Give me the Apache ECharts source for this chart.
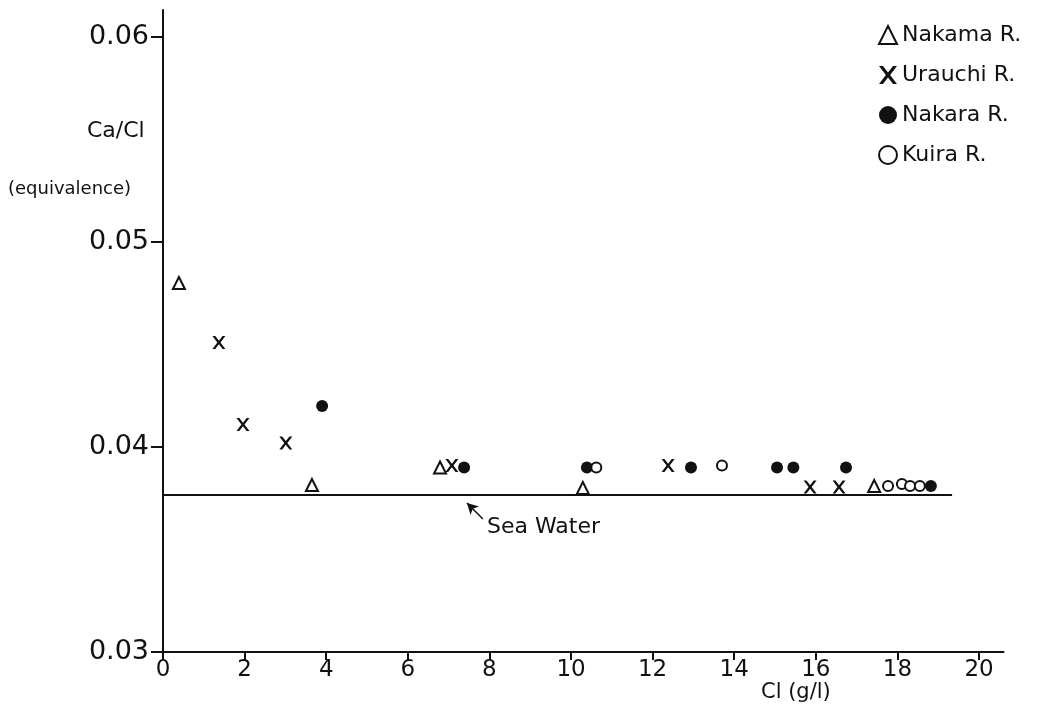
<!DOCTYPE html>
<html>
<head>
<meta charset="utf-8">
<script src="https://cdn.jsdelivr.net/npm/echarts@6/dist/echarts.min.js"></script>
<style>
html,body{margin:0;padding:0;background:#fff;}
#chart{width:1040px;height:704px;}
</style>
</head>
<body>
<div id="chart"></div>
<script>
// ---- data ----
var xTicks = [0, 2, 4, 6, 8, 10, 12, 14, 16, 18, 20];
var yTicks = [0.03, 0.04, 0.05, 0.06];
var nakama = [[0.39, 0.0480], [3.65, 0.03815], [6.79, 0.0390], [10.29, 0.0380], [17.43, 0.0381]];
var urauchi = [[1.37, 0.0451], [1.96, 0.0411], [3.01, 0.0402], [7.08, 0.0391], [12.38, 0.0391], [15.86, 0.03805], [16.57, 0.03805]];
var nakara = [[3.90, 0.0420], [7.38, 0.0390], [10.39, 0.0390], [12.94, 0.0390], [15.05, 0.0390], [15.45, 0.0390], [16.74, 0.0390], [18.82, 0.0381]];
var kuira = [[10.62, 0.0390], [13.70, 0.0391], [17.77, 0.0381], [18.11, 0.0382], [18.31, 0.0381], [18.55, 0.0381]];
var seaWater = [[0, 0.03766], [19.34, 0.03766]];
var seaLabel = [[7.94, 0.0361]];
var seaArrow = [[7.84, 0.03649], [7.45, 0.03727]];

var ink = '#111111';
var font = 'DejaVu Sans';
var crossPath = 'path://M0,0 L2.2,0 L5,3.6 L7.8,0 L10,0 L6.2,5 L10,10 L7.8,10 L5,6.4 L2.2,10 L0,10 L3.8,5 Z';

var chart = echarts.init(document.getElementById('chart'));
chart.setOption({
  backgroundColor: '#fff',
  animation: false,
  title: [
    {text: 'Ca/Cl', left: 82, top: 115, textStyle: {fontFamily: font, fontWeight: 'normal', fontSize: 22, color: ink}},
    {text: '(equivalence)', left: 3, top: 175, textStyle: {fontFamily: font, fontWeight: 'normal', fontSize: 18, color: ink}},
    {text: 'Cl (g/l)', left: 756, top: 677, textStyle: {fontFamily: font, fontWeight: 'normal', fontSize: 21, color: ink}}
  ],
  legend: {
    orient: 'vertical',
    left: 873,
    top: 19,
    itemGap: 18,
    itemWidth: 18,
    itemHeight: 18,
    textStyle: {fontFamily: font, fontSize: 22, color: ink},
    data: ['Nakama R.', 'Urauchi R.', 'Nakara R.', 'Kuira R.']
  },
  grid: {left: 163, top: 10, width: 840.5, height: 642},
  xAxis: {
    type: 'value', min: 0, max: 20.6,
    axisLine: {lineStyle: {color: ink, width: 2}},
    axisTick: {customValues: xTicks, length: 8, lineStyle: {color: ink, width: 2}},
    axisLabel: {customValues: xTicks, fontFamily: font, fontSize: 23, color: ink, margin: 7},
    splitLine: {show: false}
  },
  yAxis: {
    type: 'value', min: 0.03, max: 0.06132,
    axisLine: {lineStyle: {color: ink, width: 2}},
    axisTick: {customValues: yTicks, length: 12, lineStyle: {color: ink, width: 2}},
    axisLabel: {customValues: yTicks, fontFamily: font, fontSize: 27, color: ink, margin: 14,
      formatter: function (v) { return v.toFixed(2); }},
    splitLine: {show: false}
  },
  series: [
    {name: 'Sea Water', type: 'line', data: seaWater, showSymbol: false, symbol: 'none',
      lineStyle: {color: ink, width: 2, opacity: 1}, silent: true,
      markLine: {silent: true, symbol: ['none', 'arrow'], symbolSize: [9, 11],
        lineStyle: {color: ink, width: 1.5, type: 'solid', opacity: 1}, label: {show: false},
        data: [[{coord: seaArrow[0]}, {coord: seaArrow[1]}]]}},
    {name: 'seaLabel', type: 'scatter', data: seaLabel, symbolSize: 0, silent: true,
      itemStyle: {opacity: 1},
      label: {show: true, position: 'right', distance: 0, formatter: 'Sea Water',
        fontFamily: font, fontSize: 22, color: ink}},
    {name: 'Nakama R.', type: 'scatter', data: nakama, symbol: 'triangle', symbolSize: 12,
      itemStyle: {color: '#fff', borderColor: ink, borderWidth: 2, opacity: 1}},
    {name: 'Urauchi R.', type: 'scatter', data: urauchi, symbol: crossPath, symbolSize: 13,
      itemStyle: {color: ink, opacity: 1}},
    {name: 'Nakara R.', type: 'scatter', data: nakara, symbol: 'circle', symbolSize: 12,
      itemStyle: {color: ink, opacity: 1}},
    {name: 'Kuira R.', type: 'scatter', data: kuira, symbol: 'circle', symbolSize: 10,
      itemStyle: {color: '#fff', borderColor: ink, borderWidth: 2, opacity: 1}}
  ]
});
</script>
</body>
</html>
